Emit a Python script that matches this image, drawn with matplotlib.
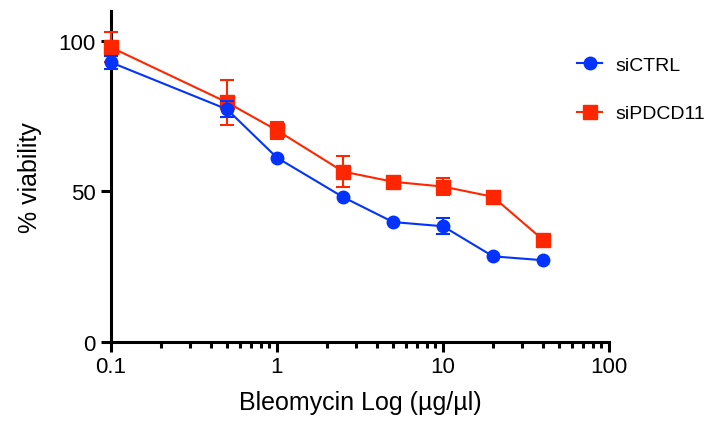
import numpy as np
import matplotlib
matplotlib.use("Agg")
import matplotlib.pyplot as plt
from matplotlib.lines import Line2D
from matplotlib.ticker import FixedLocator, LogLocator, NullFormatter

plt.rcParams['font.family'] = ['Liberation Sans', 'DejaVu Sans']

dose = [0.1, 0.5, 1, 2.5, 5, 10, 20, 40]
ctrl = [92.9, 77.3, 61.2, 48.1, 39.8, 38.4, 28.4, 27.1]
ctrl_err = [2.1, 2.6, np.nan, np.nan, np.nan, 2.7, np.nan, np.nan]
pdcd = [97.9, 79.6, 70.3, 56.6, 53.2, 51.6, 48.2, 33.9]
pdcd_err = [5.0, 7.4, 2.8, 5.2, np.nan, 2.8, np.nan, np.nan]
xticks = [0.1, 1, 10, 100]
xticklabels = ['0.1', '1', '10', '100']
yticks = [0, 50, 100]

blue = '#0433FF'
red = '#FF2600'

fig = plt.figure(figsize=(7.13, 4.27), dpi=100)
ax = fig.add_axes([111/713, 1-342.7/427, (609-111)/713, (342.7-12)/427])

ax.errorbar(dose, pdcd, yerr=pdcd_err, color=red, marker='s', ms=9.5, lw=1.5,
            elinewidth=1.5, capsize=4.8, capthick=1.5, clip_on=False, zorder=3)
ax.errorbar(dose, ctrl, yerr=ctrl_err, color=blue, marker='o', ms=9.0, lw=1.5,
            elinewidth=1.5, capsize=4.8, capthick=1.5, clip_on=False, zorder=4)

ax.set_xscale('log')
ax.set_xlim(0.1, 100)
ax.set_ylim(0, 110)
ax.xaxis.set_major_locator(FixedLocator(xticks))
ax.set_xticklabels(xticklabels)
ax.xaxis.set_minor_locator(LogLocator(base=10, subs=np.arange(2, 10)))
ax.xaxis.set_minor_formatter(NullFormatter())
ax.set_yticks(yticks)

for s in ['top', 'right']:
    ax.spines[s].set_visible(False)
for s in ['left', 'bottom']:
    ax.spines[s].set_linewidth(2.2)

ax.tick_params(axis='both', which='major', direction='out', length=7, width=2.2, labelsize=16)
ax.tick_params(axis='x', which='major', pad=3)
ax.tick_params(axis='y', which='major', pad=4)
ax.tick_params(axis='x', which='minor', direction='out', length=4, width=2.2)

ax.set_xlabel('Bleomycin Log (µg/µl)', fontsize=18, labelpad=10)
ax.set_ylabel('% viability', fontsize=18, labelpad=12)

handles = [Line2D([], [], color=blue, marker='o', ms=9.0, lw=1.5),
           Line2D([], [], color=red, marker='s', ms=9.5, lw=1.5)]
labels = ['siCTRL', 'siPDCD11']
leg = fig.legend(handles, labels, loc='upper left', bbox_to_anchor=(577/713, 1-57/427),
                 frameon=False, fontsize=14, handlelength=1.3, handletextpad=0.7,
                 labelspacing=1.6, borderpad=0, borderaxespad=0)

fig.savefig('out.png', dpi=100)
